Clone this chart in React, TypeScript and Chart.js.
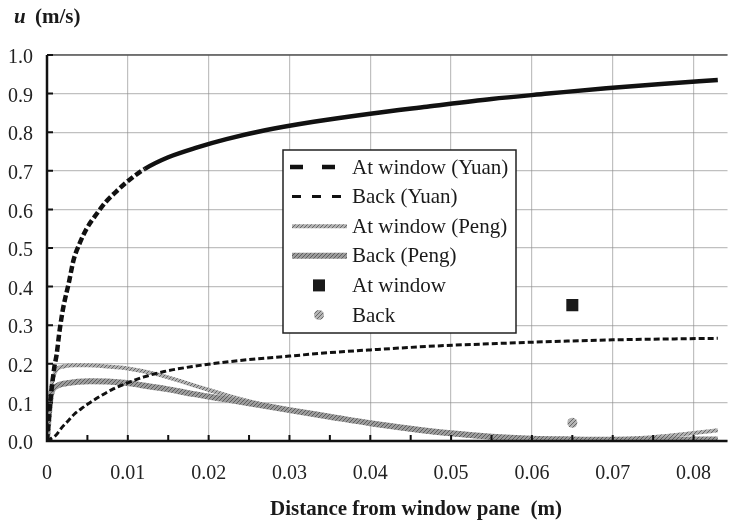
import React, { useEffect, useRef } from 'react';
import { Chart, registerables } from 'chart.js';

Chart.register(...registerables);

// ---- axis ticks ----
const xTicks = [0, 0.01, 0.02, 0.03, 0.04, 0.05, 0.06, 0.07, 0.08];
const xTickLabels = ['0', '0.01', '0.02', '0.03', '0.04', '0.05', '0.06', '0.07', '0.08'];
const yTicks = [0, 0.1, 0.2, 0.3, 0.4, 0.5, 0.6, 0.7, 0.8, 0.9, 1.0];
const yTickLabels = ['0.0', '0.1', '0.2', '0.3', '0.4', '0.5', '0.6', '0.7', '0.8', '0.9', '1.0'];

// ---- series ----
const seriesLabels = ['At window (Yuan)', 'Back (Yuan)', 'At window (Peng)', 'Back (Peng)', 'At window', 'Back'];

const yuanWinX = [0, 0.0004, 0.0009, 0.0012, 0.0015, 0.0018, 0.0021, 0.0027, 0.0033, 0.004, 0.0049, 0.0062, 0.0073, 0.0085, 0.0101, 0.0121, 0.015, 0.0185, 0.0222, 0.027, 0.033, 0.04, 0.047, 0.055, 0.062, 0.0692, 0.076, 0.083];
const yuanWinU = [0, 0.1, 0.19, 0.225, 0.277, 0.32, 0.355, 0.41, 0.47, 0.51, 0.55, 0.59, 0.62, 0.645, 0.675, 0.705, 0.735, 0.76, 0.782, 0.805, 0.827, 0.848, 0.866, 0.886, 0.9, 0.914, 0.925, 0.935];

const yuanBackX = [0, 0.0004, 0.0011, 0.0018, 0.0026, 0.0034, 0.0042, 0.005, 0.0065, 0.0082, 0.0099, 0.012, 0.0145, 0.018, 0.0215, 0.025, 0.03, 0.035, 0.04, 0.048, 0.055, 0.0615, 0.07, 0.083];
const yuanBackU = [0, 0.005, 0.015, 0.034, 0.052, 0.07, 0.083, 0.095, 0.115, 0.135, 0.15, 0.166, 0.18, 0.193, 0.203, 0.211, 0.22, 0.229, 0.236, 0.246, 0.252, 0.257, 0.262, 0.266];

const pengWinX = [0, 0.0002, 0.0006, 0.0012, 0.002, 0.0035, 0.005, 0.0075, 0.01, 0.0138, 0.017, 0.0196, 0.0225, 0.026, 0.03, 0.035, 0.04, 0.045, 0.05, 0.055, 0.06, 0.065, 0.07, 0.075, 0.079, 0.083];
const pengWinU = [0, 0.08, 0.15, 0.185, 0.193, 0.196, 0.196, 0.193, 0.188, 0.172, 0.152, 0.135, 0.117, 0.098, 0.08, 0.062, 0.045, 0.03, 0.018, 0.009, 0.004, 0.003, 0.005, 0.01, 0.018, 0.028];

const pengBackX = [0, 0.0002, 0.0005, 0.0012, 0.0025, 0.0053, 0.0075, 0.0099, 0.0125, 0.0147, 0.018, 0.0215, 0.025, 0.03, 0.035, 0.04, 0.045, 0.05, 0.055, 0.06, 0.065, 0.07, 0.075, 0.083];
const pengBackU = [0, 0.06, 0.12, 0.142, 0.15, 0.155, 0.154, 0.15, 0.142, 0.135, 0.122, 0.11, 0.098, 0.08, 0.063, 0.046, 0.032, 0.02, 0.011, 0.006, 0.004, 0.003, 0.003, 0.004];

const measX = [0.065];
const measWinU = [0.352];
const measBackU = [0.047];

const SERIF = '"Liberation Serif", "Times New Roman", serif';

const zip = (xs: number[], ys: number[]) => xs.map((x, i) => ({ x, y: ys[i] }));

function makePattern(bg: string, fg: string): CanvasPattern | string {
  const c = document.createElement('canvas');
  c.width = 4;
  c.height = 4;
  const g = c.getContext('2d');
  if (!g) return bg;
  g.fillStyle = bg;
  g.fillRect(0, 0, 4, 4);
  g.fillStyle = fg;
  for (let i = 0; i < 4; i++) g.fillRect(i, 3 - i, 1, 1);
  const p = g.createPattern(c, 'repeat');
  return p || bg;
}

const decorPlugin = {
  id: 'decor',
  afterDatasetsDraw(chart: any) {
    const { ctx, chartArea: ca, scales } = chart;
    const xs = scales.x;
    const ys = scales.y;
    ctx.save();
    // top border
    ctx.strokeStyle = '#555';
    ctx.lineWidth = 1.5;
    ctx.beginPath();
    ctx.moveTo(ca.left, ca.top);
    ctx.lineTo(ca.right, ca.top);
    ctx.stroke();
    // axes
    ctx.strokeStyle = '#111';
    ctx.lineWidth = 2.5;
    ctx.beginPath();
    ctx.moveTo(ca.left, ca.top);
    ctx.lineTo(ca.left, ca.bottom);
    ctx.lineTo(ca.right, ca.bottom);
    ctx.stroke();
    // tick marks
    ctx.lineWidth = 2;
    ctx.beginPath();
    for (let k = 0; k <= 16; k++) {
      const px = xs.getPixelForValue(k * 0.005);
      ctx.moveTo(px, ca.bottom);
      ctx.lineTo(px, ca.bottom - 6);
    }
    yTicks.forEach((v) => {
      const py = ys.getPixelForValue(v);
      ctx.moveTo(ca.left, py);
      ctx.lineTo(ca.left + 6, py);
    });
    ctx.stroke();
    ctx.restore();
  },
  afterDraw(chart: any) {
    const { ctx, chartArea: ca } = chart;
    const ds = chart.data.datasets;
    ctx.save();
    // legend box
    const bx = ca.left + 236;
    const by = ca.top + 95;
    const bw = 233;
    const bh = 183;
    ctx.fillStyle = '#fff';
    ctx.fillRect(bx, by, bw, bh);
    ctx.strokeStyle = '#222';
    ctx.lineWidth = 1.5;
    ctx.strokeRect(bx, by, bw, bh);
    const rowY = (i: number) => by + 17 + i * 29.6;
    const sx0 = bx + 6;
    const sx1 = bx + 64;
    ctx.font = `21px ${SERIF}`;
    ctx.textBaseline = 'middle';
    ctx.textAlign = 'left';
    seriesLabels.forEach((lab, i) => {
      const yy = rowY(i);
      const d = ds[i];
      ctx.save();
      if (i < 4) {
        ctx.strokeStyle = d.borderColor;
        ctx.lineWidth = d.borderWidth;
        if (i === 0) ctx.setLineDash([13, 19]);
        else if (i === 1) ctx.setLineDash([9, 11]);
        else ctx.setLineDash([]);
        ctx.beginPath();
        ctx.moveTo(i === 0 ? sx0 + 1 : sx0 + 3, yy);
        ctx.lineTo(sx1, yy);
        ctx.stroke();
      } else if (i === 4) {
        ctx.fillStyle = d.backgroundColor;
        ctx.fillRect(bx + 30, yy - 6, 12, 12);
      } else {
        ctx.fillStyle = d.backgroundColor;
        ctx.beginPath();
        ctx.arc(bx + 36, yy, 5, 0, Math.PI * 2);
        ctx.fill();
      }
      ctx.restore();
      ctx.fillStyle = '#1a1a1a';
      ctx.fillText(lab, bx + 69, yy + 1);
    });
    // axis titles
    ctx.fillStyle = '#1a1a1a';
    ctx.textBaseline = 'middle';
    ctx.font = `italic bold 21px ${SERIF}`;
    ctx.fillText('u', 14, 18);
    ctx.font = `bold 21px ${SERIF}`;
    ctx.fillText('(m/s)', 35, 18);
    ctx.textAlign = 'center';
    ctx.fillText('Distance from window pane  (m)', 416, 510);
    ctx.restore();
  },
};

export default function App() {
  const ref = useRef<HTMLCanvasElement | null>(null);

  useEffect(() => {
    const canvas = ref.current;
    if (!canvas) return;
    const hatchLight = makePattern('#b2b2b2', '#666');
    const hatchDark = makePattern('#9c9c9c', '#5c5c5c');
    const measHatch = makePattern('#b5b5b5', '#666');

    const chart = new Chart(canvas, {
      type: 'scatter',
      data: {
        datasets: [
          {
            label: seriesLabels[0],
            data: zip(yuanWinX, yuanWinU),
            showLine: true,
            borderColor: '#111',
            backgroundColor: '#111',
            borderWidth: 4.5,
            pointRadius: 0,
            cubicInterpolationMode: 'monotone',
            segment: {
              borderDash: (c: any) => (c.p1.parsed.x < 0.0125 ? [7, 3] : []),
            },
            order: 1,
          },
          {
            label: seriesLabels[1],
            data: zip(yuanBackX, yuanBackU),
            showLine: true,
            borderColor: '#111',
            backgroundColor: '#111',
            borderWidth: 3,
            borderDash: [6, 3],
            pointRadius: 0,
            cubicInterpolationMode: 'monotone',
            order: 2,
          },
          {
            label: seriesLabels[2],
            data: zip(pengWinX, pengWinU),
            showLine: true,
            borderColor: hatchLight as any,
            backgroundColor: hatchLight as any,
            borderWidth: 4,
            pointRadius: 0,
            cubicInterpolationMode: 'monotone',
            order: 4,
          },
          {
            label: seriesLabels[3],
            data: zip(pengBackX, pengBackU),
            showLine: true,
            borderColor: hatchDark as any,
            backgroundColor: hatchDark as any,
            borderWidth: 6,
            pointRadius: 0,
            cubicInterpolationMode: 'monotone',
            order: 3,
          },
          {
            label: seriesLabels[4],
            data: zip(measX, measWinU),
            showLine: false,
            pointStyle: 'rect',
            pointRadius: 8.5,
            backgroundColor: '#1a1a1a',
            borderColor: '#1a1a1a',
            borderWidth: 0,
            order: 0,
          },
          {
            label: seriesLabels[5],
            data: zip(measX, measBackU),
            showLine: false,
            pointStyle: 'circle',
            pointRadius: 5,
            backgroundColor: measHatch as any,
            borderColor: '#888',
            borderWidth: 0,
            order: 0,
          },
        ] as any,
      },
      options: {
        animation: false,
        responsive: false,
        maintainAspectRatio: false,
        layout: { padding: { top: 55, left: 0, right: 0, bottom: 0 } },
        plugins: {
          legend: { display: false },
          tooltip: { enabled: false },
          title: { display: false },
        },
        scales: {
          x: {
            type: 'linear',
            min: 0,
            max: 0.0842,
            afterBuildTicks: (a: any) => {
              a.ticks = xTicks.map((v) => ({ value: v }));
            },
            afterFit: (a: any) => {
              a.height = 82;
            },
            ticks: {
              autoSkip: false,
              maxRotation: 0,
              padding: 21,
              color: '#222',
              font: { family: SERIF, size: 20 },
              callback: (v: any) => {
                const i = xTicks.findIndex((t) => Math.abs(t - v) < 1e-9);
                return i >= 0 ? xTickLabels[i] : '';
              },
            },
            grid: {
              color: 'rgba(140,140,140,0.55)',
              lineWidth: 1.2,
              drawTicks: false,
            },
            border: { display: false },
          },
          y: {
            type: 'linear',
            min: 0,
            max: 1,
            afterBuildTicks: (a: any) => {
              a.ticks = yTicks.map((v) => ({ value: v }));
            },
            afterFit: (a: any) => {
              a.width = 47;
            },
            ticks: {
              autoSkip: false,
              padding: 14,
              labelOffset: 3,
              color: '#222',
              font: { family: SERIF, size: 20 },
              callback: (v: any) => {
                const i = yTicks.findIndex((t) => Math.abs(t - v) < 1e-9);
                return i >= 0 ? yTickLabels[i] : '';
              },
            },
            grid: {
              color: 'rgba(140,140,140,0.55)',
              lineWidth: 1.2,
              drawTicks: false,
            },
            border: { display: false },
          },
        },
      } as any,
      plugins: [decorPlugin],
    });
    return () => chart.destroy();
  }, []);

  return (
    <div style={{ position: 'absolute', left: 0, top: 0, width: 736, height: 523, background: '#fff' }}>
      <canvas ref={ref} width={736} height={523} style={{ display: 'block', width: 736, height: 523 }} />
    </div>
  );
}
